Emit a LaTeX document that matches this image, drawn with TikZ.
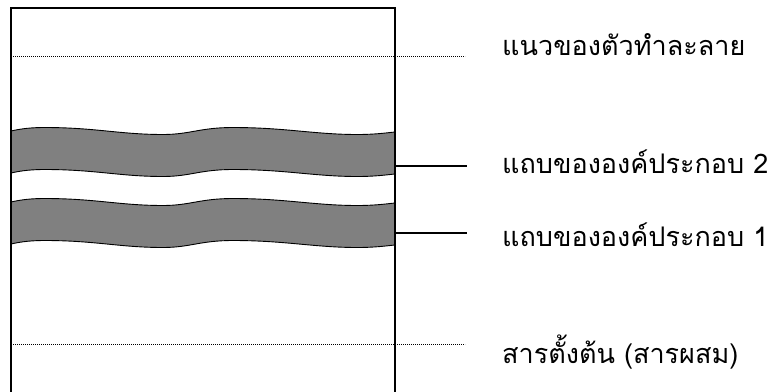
\documentclass[tikz,border=0pt]{standalone}
\usepackage{fontspec}
\newfontfamily\thaifont[Script=Thai]{Loma}
\begin{document}
\begin{tikzpicture}[x=1pt,y=-1pt,
  lbl/.style={anchor=base west,inner sep=0pt,font=\thaifont\fontsize{27}{32}\selectfont},
  dotline/.style={line width=0.7pt,dash pattern=on 0.7pt off 1.3pt},
  conn/.style={line width=1.1pt}]
\useasboundingbox (0,0) rectangle (781,391);
% wave path macro
\newcommand\wavetop{(11,0) .. controls (22,-2.5) and (32,-3.5) .. (45,-3.5)
 .. controls (95,-3.5) and (120,3.5) .. (163,3.5)
 .. controls (190,3.5) and (200,-3.5) .. (233,-3.5)
 .. controls (285,-3.5) and (315,3.5) .. (357,3.5)
 .. controls (375,3.5) and (385,2) .. (395,1)}
% dotted lines
\coordinate (d1s) at (13,56);
\coordinate (d1e) at (465,56);
\coordinate (d2s) at (13,344);
\coordinate (d2e) at (465,344);
\draw[dotline] (d1s) -- (d1e);
\draw[dotline] (d2s) -- (d2e);
% bands
\foreach \dy in {131,202}{
  \begin{scope}[yshift=-\dy pt]
  \fill[black!50] \wavetop -- (395,43) .. controls (385,44) and (375,45.5) .. (357,45.5)
    .. controls (315,45.5) and (285,38.5) .. (233,38.5)
    .. controls (200,38.5) and (190,45.5) .. (163,45.5)
    .. controls (120,45.5) and (95,38.5) .. (45,38.5)
    .. controls (32,38.5) and (22,39.5) .. (11,42) -- cycle;
  \draw[line width=0.9pt] \wavetop;
  \begin{scope}[yshift=-42pt]
  \draw[line width=0.9pt] \wavetop;
  \end{scope}
  \end{scope}
}
% box
\draw[line width=1.2pt] (11,400) -- (11,8) -- (395,8) -- (395,400);
% connectors
\coordinate (c2) at (395,166);
\coordinate (c2e) at (467,166);
\coordinate (c1) at (395,233);
\coordinate (c1e) at (467,233);
\draw[conn] (c2) -- (c2e);
\draw[conn] (c1) -- (c1e);
% labels
\node[lbl] (l0) at (502,55) {แนวของตัวทำละลาย};
\node[lbl] (l2) at (502,173) {แถบขององค์ประกอบ 2};
\node[lbl] (l1) at (502,246) {แถบขององค์ประกอบ 1};
\node[lbl] (l3) at (502,363) {สารตั้งต้น (สารผสม)};
\end{tikzpicture}
\end{document}
